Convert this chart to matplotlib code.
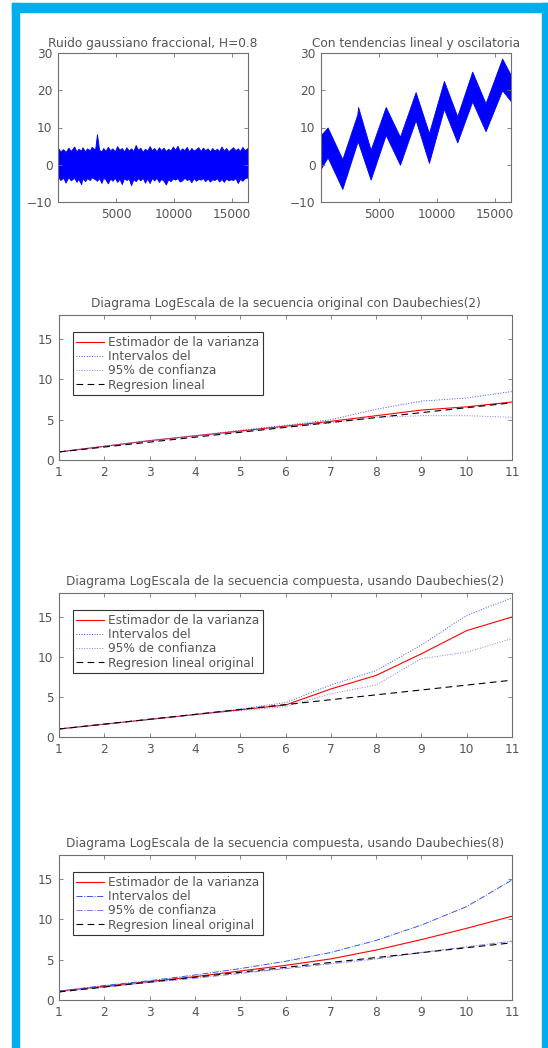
import numpy as np
import matplotlib.pyplot as plt
from matplotlib.patches import Rectangle

plt.rcParams['font.family'] = ['DejaVu Sans']
FS = 8.7
plt.rcParams['font.size'] = FS

W, H = 548, 1048
txt_col = '#555555'
ax_col = '#707070'

# --- top panels: sampled envelopes of the simulated traces ---
t_fgn = [0, 200, 450, 650, 900, 1100, 1400, 1600, 1750, 2000, 2100, 2350, 2500, 2750, 2900,
         3200, 3360, 3550, 3750, 3900, 4100, 4300, 4500, 4700, 4900, 5100, 5300, 5500,
         5700, 5900, 6100, 6300, 6500, 6700, 6900, 7100, 7300, 7500, 7700, 7900, 8100,
         8300, 8500, 8700, 8900, 9100, 9300, 9500, 9700, 9900, 10100, 10300, 10500,
         10700, 10900, 11100, 11300, 11500, 11700, 11900, 12100, 12300, 12500, 12700,
         12900, 13100, 13300, 13500, 13700, 13900, 14100, 14300, 14500, 14700, 14900,
         15100, 15300, 15500, 15700, 15900, 16100, 16384]
fgn_hi = [4.5, 3.6, 4.2, 3.4, 4.6, 3.7, 4.9, 3.5, 4.3, 3.8, 4.7, 3.6, 4.4, 3.9, 4.8,
          4.1, 8.2, 4.0, 3.6, 4.5, 3.7, 4.8, 3.9, 4.4, 3.6, 5.0, 4.0, 4.5,
          3.6, 4.7, 3.8, 4.4, 3.7, 5.3, 4.0, 4.6, 3.5, 4.3, 3.8, 5.0, 3.9,
          4.5, 3.6, 4.7, 3.9, 4.6, 3.7, 4.3, 3.8, 4.9, 4.0, 5.1, 3.7,
          4.4, 3.9, 4.8, 3.6, 4.5, 3.8, 4.2, 4.7, 3.7, 4.6, 3.9,
          4.4, 3.6, 4.5, 3.8, 4.3, 3.7, 4.9, 3.8, 4.5, 3.6, 4.2,
          4.7, 3.9, 4.4, 3.7, 4.8, 3.9, 4.6]
fgn_lo = [-3.2, -4.1, -3.5, -4.8, -3.3, -4.2, -3.5, -4.6, -3.8, -5.2, -3.7, -4.4, -3.6, -4.1, -3.4,
          -3.9, -4.3, -3.6, -4.9, -3.5, -4.0, -5.0, -3.7, -4.3, -3.5, -4.6, -3.8, -5.2,
          -3.6, -4.1, -3.7, -5.5, -3.9, -4.4, -3.6, -4.2, -3.5, -4.8, -3.7, -4.9, -3.6,
          -4.2, -3.5, -4.6, -3.8, -4.3, -5.3, -3.9, -4.4, -3.7, -4.0, -3.6, -4.5,
          -4.2, -3.5, -4.1, -3.8, -4.7, -3.6, -4.3, -3.8, -4.0, -3.6, -4.4,
          -3.7, -4.5, -3.9, -4.1, -3.6, -4.5, -3.8, -4.6, -3.7, -4.2, -3.9,
          -4.1, -3.6, -4.9, -3.8, -4.3, -3.6, -3.4]

t_trend = [0, 570, 1840, 3130, 3200, 4280, 5580, 6810, 8160, 9310, 10600, 11750,
           13040, 14190, 15620, 16384]
trend_hi = [8.0, 10.0, 1.5, 13.5, 15.5, 4.0, 15.5, 7.5, 19.5, 8.5, 22.5, 13.0,
            25.0, 16.5, 28.5, 24.0]
trend_lo = [-1.0, 2.0, -6.5, 6.0, 6.0, -4.0, 8.0, 0.0, 12.0, 0.5, 15.0, 6.0,
            17.0, 9.0, 20.0, 17.0]

top_titles = ['Ruido gaussiano fraccional, H=0.8', 'Con tendencias lineal y oscilatoria']

# --- logscale diagrams (octave j = 1..11) ---
octaves = [1, 2, 3, 4, 5, 6, 7, 8, 9, 10, 11]

orig_est = [1.0, 1.7, 2.4, 3.0, 3.6, 4.2, 4.8, 5.5, 6.2, 6.6, 7.2]
orig_hi = [1.0, 1.7, 2.4, 3.0, 3.7, 4.3, 5.0, 6.3, 7.3, 7.7, 8.5]
orig_lo = [1.0, 1.7, 2.4, 3.0, 3.5, 4.1, 4.6, 5.3, 5.5, 5.5, 5.3]
orig_reg = [1.0, 1.61, 2.22, 2.83, 3.44, 4.05, 4.66, 5.27, 5.88, 6.49, 7.1]

db2_est = [1.0, 1.6, 2.2, 2.8, 3.4, 4.0, 6.0, 7.7, 10.4, 13.3, 15.0]
db2_hi = [1.0, 1.6, 2.2, 2.8, 3.5, 4.3, 6.5, 8.3, 11.5, 15.2, 17.4]
db2_lo = [1.0, 1.6, 2.2, 2.8, 3.3, 3.8, 5.4, 6.5, 9.8, 10.6, 12.3]

db8_est = [1.1, 1.7, 2.3, 2.9, 3.6, 4.3, 5.1, 6.2, 7.5, 8.9, 10.4]
db8_hi = [1.1, 1.8, 2.4, 3.1, 3.9, 4.8, 5.9, 7.4, 9.3, 11.6, 14.9]
db8_lo = [1.0, 1.6, 2.2, 2.7, 3.3, 3.9, 4.5, 5.1, 5.9, 6.6, 7.3]

log_titles = ['Diagrama LogEscala de la secuencia original con Daubechies(2)',
              'Diagrama LogEscala de la secuencia compuesta, usando Daubechies(2)',
              'Diagrama LogEscala de la secuencia compuesta, usando Daubechies(8)']
legend_labels = [['Estimador de la varianza', 'Intervalos del', '95% de confianza', 'Regresion lineal'],
                 ['Estimador de la varianza', 'Intervalos del', '95% de confianza', 'Regresion lineal original'],
                 ['Estimador de la varianza', 'Intervalos del', '95% de confianza', 'Regresion lineal original']]


def px_axes(fig, left, top, right, bottom):
    return fig.add_axes([left / W, 1 - bottom / H, (right - left) / W, (bottom - top) / H])


def style(ax):
    for s in ax.spines.values():
        s.set_color(ax_col)
        s.set_linewidth(0.8)
    ax.tick_params(direction='in', length=3, width=0.6, colors=ax_col, labelcolor=txt_col,
                   top=True, right=True, labelsize=FS, pad=4)


fig = plt.figure(figsize=(W / 100, H / 100), dpi=100)
fig.patch.set_facecolor('white')

# cyan frame
cyan = '#00aeef'
for x0, y0, w, h in [(12, 3, 7, 1045), (12, 3, 536, 9), (542, 3, 6, 1045)]:
    fig.patches.append(Rectangle((x0 / W, 1 - (y0 + h) / H), w / W, h / H,
                                 transform=fig.transFigure, color=cyan, zorder=0))

# top row
for (left, right), t, hi, lo, title in [((58, 248), t_fgn, fgn_hi, fgn_lo, top_titles[0]),
                                         ((321, 511), t_trend, trend_hi, trend_lo, top_titles[1])]:
    ax = px_axes(fig, left, 53, right, 202)
    ax.fill_between(t, lo, hi, color='#0000ff', linewidth=0.6, edgecolor='#0000ff')
    ax.set_xlim(0, 16384)
    ax.set_ylim(-10, 30)
    ax.set_xticks([5000, 10000, 15000])
    ax.set_yticks([-10, 0, 10, 20, 30])
    ax.set_title(title, fontsize=FS, color=txt_col, pad=4)
    style(ax)

# logscale diagrams
panels = [((315, 460), orig_est, orig_hi, orig_lo, orig_reg),
          ((593, 737), db2_est, db2_hi, db2_lo, orig_reg),
          ((855, 1000), db8_est, db8_hi, db8_lo, orig_reg)]
for k, ((top, bottom), est, hi, lo, reg) in enumerate(panels):
    ax = px_axes(fig, 59, top, 512, bottom)
    ci_style = ':' if k < 2 else '-.'
    l1, = ax.plot(octaves, est, color='#ff0000', lw=0.8)
    l2, = ax.plot(octaves, hi, color='#3355ff', lw=0.7, ls=ci_style)
    l3, = ax.plot(octaves, lo, color='#8877ee', lw=0.7, ls=ci_style)
    l4, = ax.plot(octaves, reg, color='black', lw=0.8, ls=(0, (6, 4)))
    ax.set_xlim(1, 11)
    ax.set_ylim(0, 18)
    ax.set_xticks(octaves)
    ax.set_yticks([0, 5, 10, 15])
    ax.set_title(log_titles[k], fontsize=FS, color=txt_col, pad=6)
    style(ax)
    leg = ax.legend([l1, l2, l3, l4], legend_labels[k], loc='upper left',
                    bbox_to_anchor=(0.03, 0.88), borderaxespad=0, fontsize=FS,
                    fancybox=False, framealpha=1, edgecolor='#333333',
                    handlelength=2.3, handletextpad=0.35, labelspacing=0.1,
                    borderpad=0.3)
    leg.get_frame().set_linewidth(0.8)
    for tx in leg.get_texts():
        tx.set_color(txt_col)

fig.savefig('out.png', dpi=100)
